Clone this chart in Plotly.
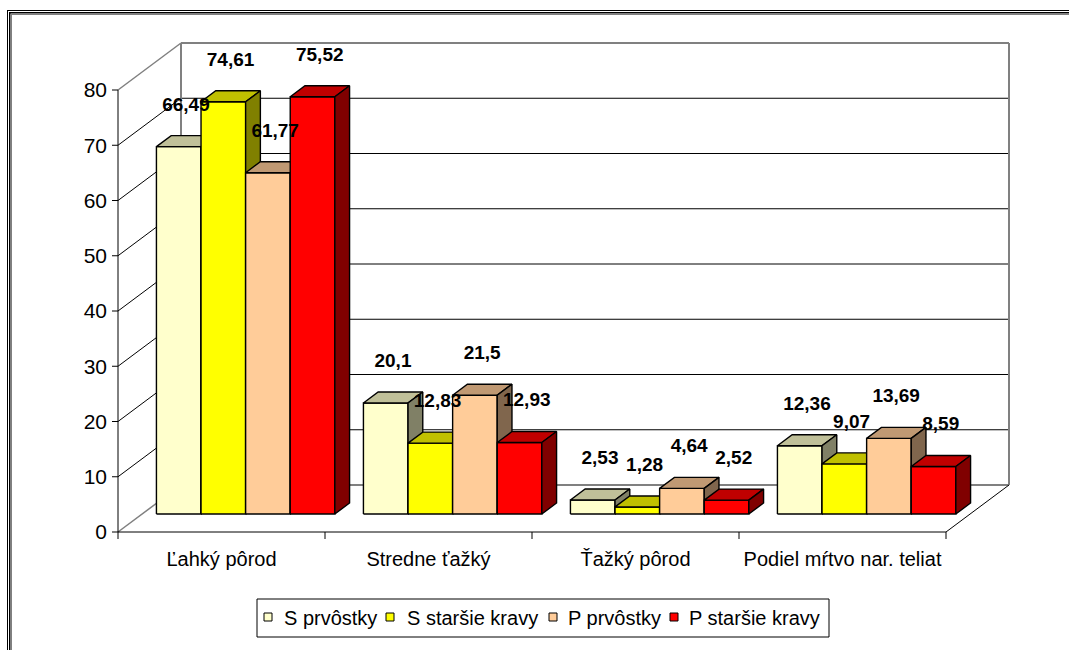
import plotly.graph_objects as go

# ---------------- data ----------------
categories = ["Ľahký pôrod", "Stredne ťažký", "Ťažký pôrod", "Podiel mŕtvo nar. teliat"]
series_names = ["S prvôstky", "S staršie kravy", "P prvôstky", "P staršie kravy"]
s_prvostky = [66.49, 20.1, 2.53, 12.36]
s_starsie_kravy = [74.61, 12.83, 1.28, 9.07]
p_prvostky = [61.77, 21.5, 4.64, 13.69]
p_starsie_kravy = [75.52, 12.93, 2.52, 8.59]
y_tick_values = [0, 10, 20, 30, 40, 50, 60, 70, 80]

series_values = [s_prvostky, s_starsie_kravy, p_prvostky, p_starsie_kravy]

# ---------------- style ----------------
FRONT_COLORS = ["#FFFFCC", "#FFFF00", "#FFCC99", "#FF0000"]
TOP_COLORS = ["#C0C099", "#C0C000", "#C09973", "#C00000"]
SIDE_COLORS = ["#808066", "#808000", "#80664D", "#800000"]
FONT = "Arial, 'Liberation Sans', sans-serif"
GRAY = "#808080"

FIG_W, FIG_H = 1070, 651
PLOT_L, PLOT_R, PLOT_T, PLOT_B = 110, 1030, 38, 545
ORIGIN_PX_X, ORIGIN_PX_Y = 118, 532
PX_PER_CAT = 207.0
PX_PER_UNIT = 5.525
DX = 63 / PX_PER_CAT          # depth vector (x, in category units)
DY = 47 / PX_PER_UNIT         # depth vector (y, in value units)
BAR_W = 44.6 / PX_PER_CAT
F_FRONT, F_BACK = 0.383, 0.617
WALL_TOP = max(y_tick_values)
N = len(categories)

x_range = [(PLOT_L - ORIGIN_PX_X) / PX_PER_CAT, (PLOT_R - ORIGIN_PX_X) / PX_PER_CAT]
y_range = [(ORIGIN_PX_Y - PLOT_B) / PX_PER_UNIT, (ORIGIN_PX_Y - PLOT_T) / PX_PER_UNIT]


def px2paper_x(px):
    return (px - PLOT_L) / (PLOT_R - PLOT_L)


def px2paper_y(py):
    return (PLOT_B - py) / (PLOT_B - PLOT_T)


fig = go.Figure()


def add_line(xs, ys, color="black", width=1):
    fig.add_trace(go.Scatter(x=xs, y=ys, mode="lines", line=dict(color=color, width=width),
                             hoverinfo="skip", showlegend=False))


def add_poly(xs, ys, fill):
    fig.add_trace(go.Scatter(x=xs + [xs[0]], y=ys + [ys[0]], mode="lines", fill="toself",
                             fillcolor=fill, line=dict(color="black", width=1.4),
                             hoverinfo="skip", showlegend=False))


# ---------------- walls / gridlines ----------------
for v in y_tick_values:
    edge = v in (0, WALL_TOP)
    c = GRAY if edge else "black"
    add_line([DX, N + DX], [v + DY, v + DY], c, 2 if edge else 1)      # back wall
    add_line([0, DX], [v, v + DY], c, 1.5 if edge else 1)             # left side wall
add_line([DX, DX], [DY, WALL_TOP + DY], GRAY, 2)
add_line([N + DX, N + DX], [DY, WALL_TOP + DY], GRAY, 2)
add_line([N, N + DX], [0, DY], "black", 1)                            # floor right edge
add_line([0, N], [0, 0], "black", 1)                                  # category axis
add_line([0, 0], [0, WALL_TOP], "black", 1)                           # value axis
tick_len_x = 6 / PX_PER_CAT
for v in y_tick_values:
    add_line([-tick_len_x, 0], [v, v], "black", 1)
tick_len_y = 7 / PX_PER_UNIT
for k in range(N + 1):
    add_line([k, k], [0, -tick_len_y], "black", 1)

# ---------------- 3D bars ----------------
bdx = (F_BACK - F_FRONT) * DX
bdy = (F_BACK - F_FRONT) * DY
label_x = [[] for _ in series_values]
label_y = [[] for _ in series_values]
label_t = [[] for _ in series_values]
for i in range(N):
    for j, vals in enumerate(series_values):
        v = vals[i]
        xl = i + 0.5 - 2 * BAR_W + j * BAR_W + F_FRONT * DX
        xr = xl + BAR_W
        yb = F_FRONT * DY
        yt = yb + v
        add_poly([xl, xr, xr, xl], [yb, yb, yt, yt], FRONT_COLORS[j])
        add_poly([xl, xr, xr + bdx, xl + bdx], [yt, yt, yt + bdy, yt + bdy], TOP_COLORS[j])
        add_poly([xr, xr + bdx, xr + bdx, xr], [yb, yb + bdy, yt + bdy, yt], SIDE_COLORS[j])
        label_x[j].append((xl + xr) / 2 + 0.035)
        label_y[j].append(yt + 7.4)
        label_t[j].append(f"{v:g}".replace(".", ","))

for j in range(len(series_values)):
    fig.add_trace(go.Scatter(x=label_x[j], y=label_y[j], text=label_t[j], mode="text",
                             textposition="middle center",
                             textfont=dict(family=FONT, size=19, color="black", weight="bold"),
                             cliponaxis=False, hoverinfo="skip", showlegend=False,
                             name=series_names[j]))

# ---------------- custom legend ----------------
shapes = []
annotations = []
LEG_L, LEG_R, LEG_T, LEG_B = 257, 829, 599, 637
shapes.append(dict(type="rect", xref="paper", yref="paper",
                   x0=px2paper_x(LEG_L), x1=px2paper_x(LEG_R),
                   y0=px2paper_y(LEG_B), y1=px2paper_y(LEG_T),
                   line=dict(color="black", width=1), fillcolor="white", layer="above"))
sq_left = [264, 386, 549, 670]
txt_left = [282, 405, 566, 687]
for j, name in enumerate(series_names):
    shapes.append(dict(type="rect", xref="paper", yref="paper",
                       x0=px2paper_x(sq_left[j]), x1=px2paper_x(sq_left[j] + 8),
                       y0=px2paper_y(621), y1=px2paper_y(613),
                       line=dict(color="black", width=1), fillcolor=FRONT_COLORS[j], layer="above"))
    annotations.append(dict(xref="paper", yref="paper", x=px2paper_x(txt_left[j]), y=px2paper_y(618),
                            xanchor="left", yanchor="middle", text=name, showarrow=False,
                            font=dict(family=FONT, size=20, color="black")))

# ---------------- outer chart border: thin filled strips along top and left ----------------
for a, b, col in [(7, 8, "black"), (9, 10.5, "black"), (11, 12, GRAY)]:
    top = a + 3
    # top strip
    shapes.append(dict(type="rect", xref="paper", yref="paper",
                       x0=px2paper_x(a), x1=px2paper_x(FIG_W - 1),
                       y0=px2paper_y(b + 3), y1=px2paper_y(top),
                       line=dict(width=0), fillcolor=col, layer="above"))
    # left strip
    shapes.append(dict(type="rect", xref="paper", yref="paper",
                       x0=px2paper_x(a), x1=px2paper_x(b),
                       y0=px2paper_y(FIG_H - 1), y1=px2paper_y(top),
                       line=dict(width=0), fillcolor=col, layer="above"))

fig.update_layout(
    width=FIG_W, height=FIG_H, autosize=False,
    margin=dict(l=PLOT_L, r=FIG_W - PLOT_R, t=PLOT_T, b=FIG_H - PLOT_B, pad=0),
    paper_bgcolor="white", plot_bgcolor="white",
    showlegend=False, hovermode=False,
    shapes=shapes, annotations=annotations,
    xaxis=dict(range=x_range, tickmode="array", tickvals=[i + 0.5 for i in range(N)], ticktext=categories,
               showgrid=False, zeroline=False, showline=False, ticks="",
               tickfont=dict(family=FONT, size=20, color="black"), fixedrange=True),
    yaxis=dict(range=y_range, tickmode="array", tickvals=y_tick_values,
               ticktext=[str(v) for v in y_tick_values],
               showgrid=False, zeroline=False, showline=False, ticks="", ticklabelstandoff=2,
               tickfont=dict(family=FONT, size=21, color="black"), fixedrange=True),
)

fig.write_html("out.html")
